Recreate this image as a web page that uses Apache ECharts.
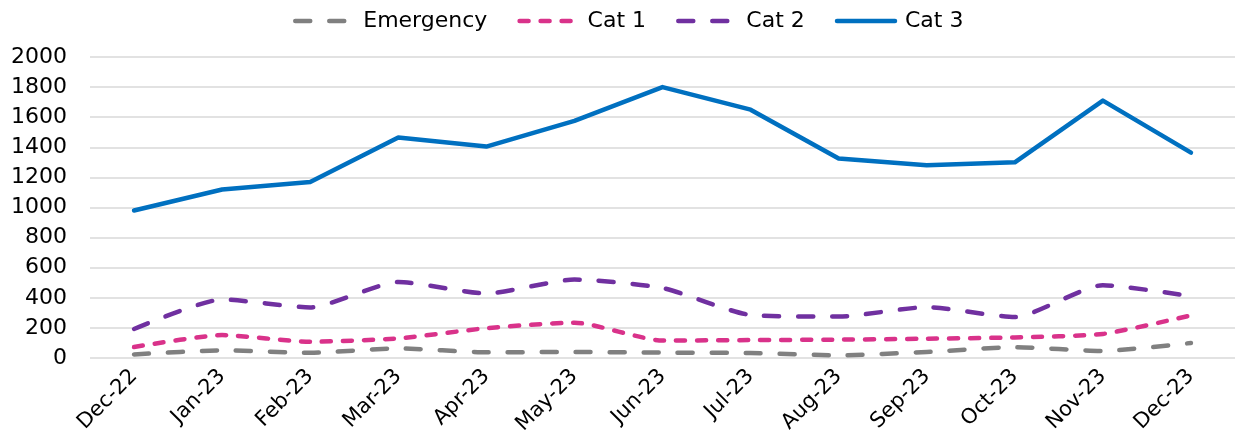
<!DOCTYPE html>
<html>
<head>
<meta charset="utf-8">
<script src="https://cdn.jsdelivr.net/npm/echarts@6/dist/echarts.min.js"></script>
<style>
  html, body { margin: 0; padding: 0; background: #fff; }
  #chart { width: 1235px; height: 441px; }
</style>
</head>
<body>
<div id="chart"></div>
<script>
// 月份
const months = ['Dec-22', 'Jan-23', 'Feb-23', 'Mar-23', 'Apr-23', 'May-23', 'Jun-23',
  'Jul-23', 'Aug-23', 'Sep-23', 'Oct-23', 'Nov-23', 'Dec-23'];
const emergency = [24, 51, 35, 64, 38, 40, 36, 33, 18, 40, 72, 47, 100];
const cat1 = [73, 152, 108, 130, 198, 235, 116, 119, 122, 128, 137, 160, 283];
const cat2 = [193, 389, 336, 505, 429, 521, 465, 286, 275, 338, 272, 484, 410];
const cat3 = [980, 1120, 1170, 1465, 1405, 1575, 1800, 1650, 1325, 1280, 1300, 1710, 1365];
const yTicks = [0, 200, 400, 600, 800, 1000, 1200, 1400, 1600, 1800, 2000];

const font = 'DejaVu Sans, Verdana, sans-serif';

function dashed(name, data, color, dash, smooth) {
  return {
    name: name,
    type: 'line',
    data: data,
    symbol: 'none',
    smooth: smooth,
    lineStyle: { color: color, width: 4.5, type: dash, cap: 'round', join: 'round' },
    itemStyle: { color: color }
  };
}

const chart = echarts.init(document.getElementById('chart'));
chart.setOption({
  animation: false,
  legend: {
    top: 5,
    left: 288,
    itemWidth: 58,
    itemHeight: 14,
    itemGap: 30,
    itemStyle: { opacity: 0 },
    lineStyle: { width: 4.5, cap: 'round' },
    textStyle: { fontFamily: font, fontSize: 22, color: '#000', padding: [0, 0, 0, 5] },
    data: ['Emergency', 'Cat 1', 'Cat 2', 'Cat 3']
  },
  grid: { left: 90, top: 57, width: 1149, height: 301, containLabel: false },
  xAxis: {
    type: 'category',
    data: months,
    boundaryGap: true,
    axisLine: { show: false },
    axisTick: { show: false },
    axisLabel: { rotate: 45, fontFamily: font, fontSize: 21, color: '#000', margin: 15 }
  },
  yAxis: {
    type: 'value',
    min: yTicks[0],
    max: yTicks[yTicks.length - 1],
    interval: 200,
    axisLine: { show: false },
    axisTick: { show: false },
    axisLabel: { fontFamily: font, fontSize: 22, color: '#000', margin: 23, formatter: v => String(v) },
    splitLine: { lineStyle: { color: '#d9d9d9', width: 1.5 } }
  },
  series: [
    dashed('Emergency', emergency, '#808080', [15, 19], 0.2),
    dashed('Cat 1', cat1, '#d9328a', [9, 12], 0.2),
    dashed('Cat 2', cat2, '#7030a0', [15, 19], 0.2),
    {
      name: 'Cat 3',
      type: 'line',
      data: cat3,
      symbol: 'none',
      smooth: false,
      lineStyle: { color: '#0070c0', width: 4.5, cap: 'round', join: 'round' },
      itemStyle: { color: '#0070c0' }
    }
  ]
});
</script>
</body>
</html>
